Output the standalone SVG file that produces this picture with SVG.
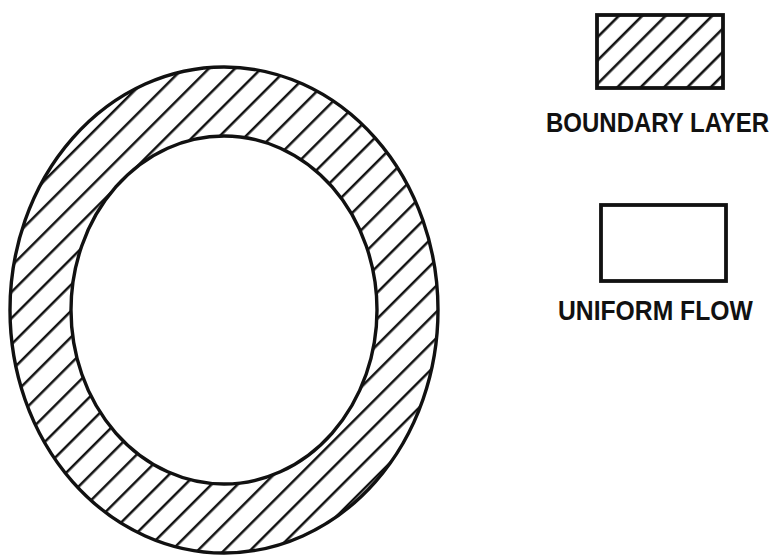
<svg xmlns="http://www.w3.org/2000/svg" width="782" height="556" viewBox="0 0 782 556">
  <style>
    .outline { fill: none; stroke: #111; stroke-width: 3.4; }
    .box { stroke: #111; stroke-width: 3.8; }
    .label { font-family: "Liberation Sans", Arial, sans-serif; font-weight: bold; fill: #111; }
  </style>
  <defs>
    <pattern id="hatch" patternUnits="userSpaceOnUse" width="18.5" height="18.5" patternTransform="translate(3 0) rotate(45)">
      <line x1="9" y1="-1" x2="9" y2="19.5" stroke="#111" stroke-width="2.5"/>
    </pattern>
    <pattern id="hatchLegend" patternUnits="userSpaceOnUse" width="16.5" height="16.5" patternTransform="translate(600 0) rotate(45)">
      <line x1="8" y1="-1" x2="8" y2="17.5" stroke="#111" stroke-width="2.6"/>
    </pattern>
  </defs>
  <rect width="782" height="556" fill="#fff"/>

  <g id="ring">
    <path fill="url(#hatch)" fill-rule="evenodd"
      d="M10,310 A214,243 0 1,0 438,310 A214,243 0 1,0 10,310 Z M71,310 A153,174 0 1,0 377,310 A153,174 0 1,0 71,310 Z"/>
    <ellipse class="outline" cx="224" cy="310" rx="214" ry="243"/>
    <ellipse class="outline" cx="224" cy="310" rx="153" ry="174"/>
  </g>

  <g id="legend-boundary-layer">
    <rect class="box" x="597" y="15" width="126" height="73" fill="url(#hatchLegend)"/>
    <text class="label" font-size="24" transform="translate(546 132) scale(1 1.16)" x="0" y="0">BOUNDARY LAYER</text>
  </g>

  <g id="legend-uniform-flow">
    <rect class="box" x="601" y="205" width="125" height="76" fill="#fff"/>
    <text class="label" font-size="24.7" transform="translate(558 320) scale(1 1.13)" x="0" y="0">UNIFORM FLOW</text>
  </g>

  <g id="connectors"></g>
</svg>
